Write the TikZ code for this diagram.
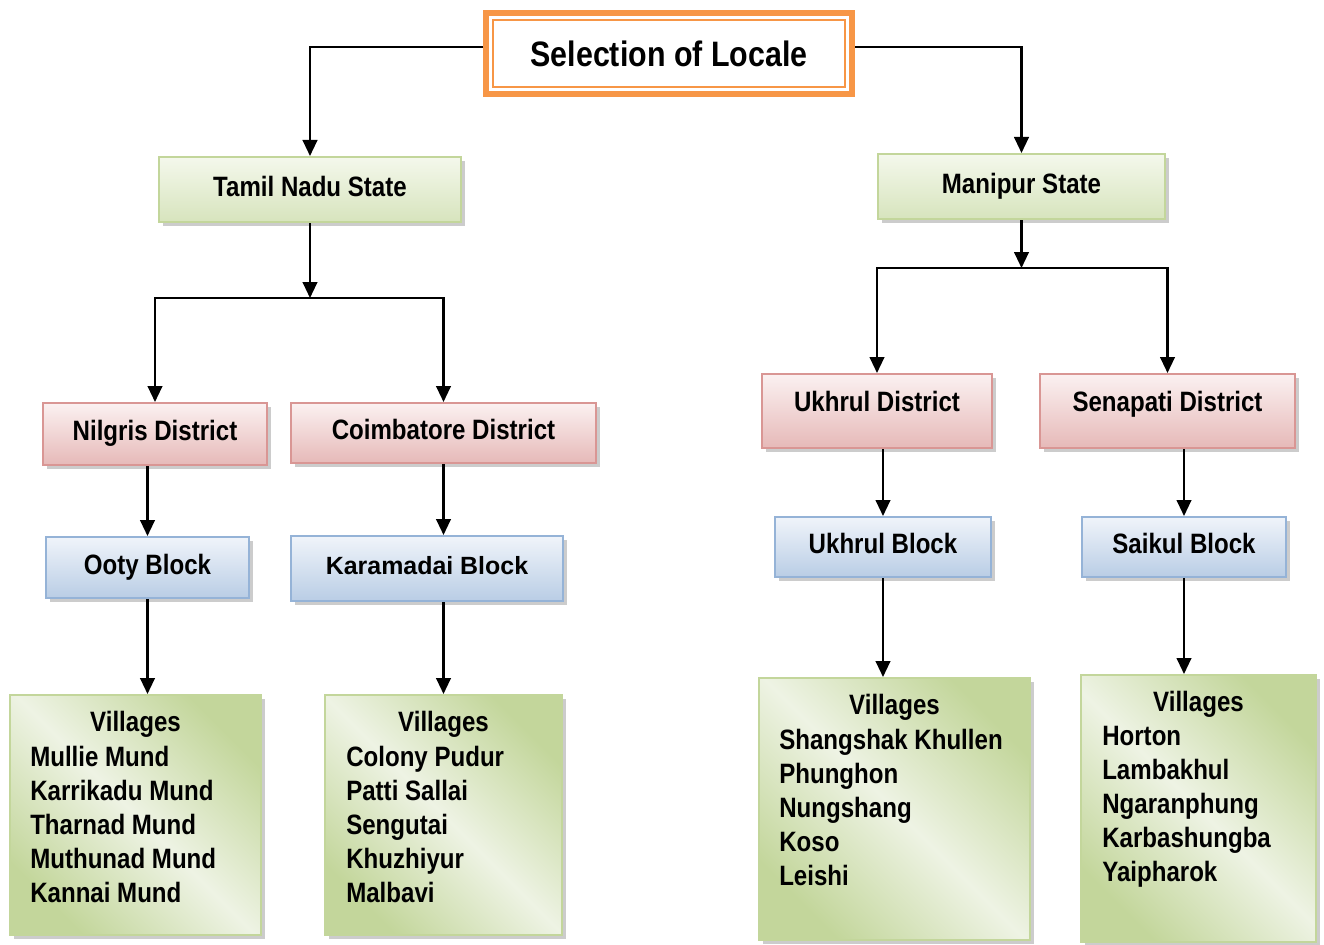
\documentclass[tikz,border=0pt]{standalone}
\usepackage{fontspec}
\setmainfont[FakeStretch=0.86]{Liberation Sans}
\newfontfamily\widesans{Liberation Sans}
\usetikzlibrary{arrows.meta, positioning, calc, shadows}
\usepackage{xcolor}
\definecolor{localeorange}{HTML}{F79646}
\definecolor{stategreen}{HTML}{C3D69B}
\definecolor{stategreenlt}{HTML}{F4F8EC}
\definecolor{stategreendk}{HTML}{D7E4BD}
\definecolor{distred}{HTML}{D99694}
\definecolor{distredlt}{HTML}{FBF1F1}
\definecolor{distreddk}{HTML}{E6B9B8}
\definecolor{blockblue}{HTML}{95B3D7}
\definecolor{blockbluelt}{HTML}{F0F4FA}
\definecolor{blockbluedk}{HTML}{B9CDE5}
\definecolor{villagegreen}{HTML}{C3D69B}
\definecolor{villagelt}{HTML}{EEF3E4}

\begin{document}
\begin{tikzpicture}[x=0.75pt, y=-0.75pt,
  every node/.style={font=\fontsize{21}{25.5}\selectfont\bfseries},
  boxbase/.style={rectangle, line width=1.5pt, inner sep=0pt, text height=15pt, text depth=5pt,
    drop shadow={shadow xshift=3pt, shadow yshift=-3pt, fill=black!40}},
  statebox/.style={boxbase, draw=stategreen, top color=stategreenlt, bottom color=stategreendk},
  distbox/.style={boxbase, draw=distred, top color=distredlt, bottom color=distreddk},
  blockbox/.style={boxbase, draw=blockblue, top color=blockbluelt, bottom color=blockbluedk},
  villagebox/.style={boxbase, draw=villagegreen, left color=villagegreen, right color=villagegreen,
    middle color=villagelt, shading angle=135},
  vhead/.style={inner sep=0pt},
  vlist/.style={anchor=north west, align=left, inner sep=0pt},
  arr/.style={line width=1.6pt, -{Triangle[length=12pt, width=11pt]}},
  bus/.style={line width=1.6pt}
]
\useasboundingbox (0,0) rectangle (1324,945);

% title
\node[draw=localeorange, line width=4.5pt, fill=white, minimum width=274.5pt, minimum height=60.75pt,
      font=\fontsize{26.5}{30}\selectfont\bfseries]
      (title) at (669,53.5) {Selection of Locale};
\draw[localeorange, line width=1.3pt] ($(title.north west)+(10,10)$) rectangle ($(title.south east)+(-10,-10)$);

% states
\node[statebox, minimum width=226.5pt, minimum height=48.75pt] (tn) at (310,189.5) {Tamil Nadu State};
\node[statebox, minimum width=215.25pt, minimum height=48.75pt] (ms) at (1021.5,186.5) {Manipur State};

% districts
\node[distbox, minimum width=168pt, minimum height=46.5pt] (nd) at (155,434) {Nilgris District};
\node[distbox, minimum width=228.75pt, minimum height=45pt] (cd) at (443.5,433) {Coimbatore District};
\node[distbox, minimum width=172.5pt, minimum height=55.5pt, text depth=15pt] (ud) at (877,411) {Ukhrul District};
\node[distbox, minimum width=191.25pt, minimum height=55.5pt, text depth=15pt] (sd) at (1167.5,411) {Senapati District};

% blocks
\node[blockbox, minimum width=152.25pt, minimum height=45.75pt] (ob) at (147.5,567.5) {Ooty Block};
\node[blockbox, minimum width=204pt, minimum height=48.75pt, text height=13.5pt,
      font=\widesans\fontsize{18.7}{22}\selectfont\bfseries] (kb) at (427,568.5) {Karamadai Block};
\node[blockbox, minimum width=162pt, minimum height=45pt] (ub) at (883,547) {Ukhrul Block};
\node[blockbox, minimum width=153pt, minimum height=45pt] (sb) at (1184,547) {Saikul Block};

% villages
\node[villagebox, minimum width=188.25pt, minimum height=180pt] (v1) at (135.5,815) {};
\node[villagebox, minimum width=177.75pt, minimum height=180pt] (v2) at (443.5,815) {};
\node[villagebox, minimum width=203.25pt, minimum height=196.5pt] (v3) at (894.5,809) {};
\node[villagebox, minimum width=176.25pt, minimum height=200.25pt] (v4) at (1198.5,808.5) {};

\node[vhead] (v1h) at ($(v1.north)+(0,30)$) {Villages};
\node[vlist] (v1l) at ($(v1.north west)+(21,52)$)
  {Mullie Mund\\Karrikadu Mund\\Tharnad Mund\\Muthunad Mund\\Kannai Mund};
\node[vhead] (v2h) at ($(v2.north)+(0,30)$) {Villages};
\node[vlist] (v2l) at ($(v2.north west)+(22,52)$)
  {Colony Pudur\\Patti Sallai\\Sengutai\\Khuzhiyur\\Malbavi};
\node[vhead] (v3h) at ($(v3.north)+(0,30)$) {Villages};
\node[vlist] (v3l) at ($(v3.north west)+(21,52)$)
  {Shangshak Khullen\\Phunghon\\Nungshang\\Koso\\Leishi};
\node[vhead] (v4h) at ($(v4.north)+(0,30)$) {Villages};
\node[vlist] (v4l) at ($(v4.north west)+(22,52)$)
  {Horton\\Lambakhul\\Ngaranphung\\Karbashungba\\Yaipharok};

% connectors
\draw[arr] ([yshift=4.9pt]title.west) -| (tn.north);
\draw[arr] ([yshift=4.9pt]title.east) -| (ms.north);

\coordinate (tnbus) at ($(tn.south)+(0,75)$);
\draw[arr] (tn.south) -- (tnbus);
\draw[arr] (tnbus) -| (nd.north);
\draw[arr] (tnbus) -| (cd.north);

\coordinate (msbus) at ($(ms.south)+(0,48)$);
\draw[arr] (ms.south) -- (msbus);
\draw[arr] (msbus) -| (ud.north);
\draw[arr] (msbus) -| (sd.north);

\draw[arr] (nd.south -| ob.north) -- (ob.north);
\draw[arr] (cd.south) -- (cd.south |- kb.north);
\draw[arr] (ud.south -| ub.north) -- (ub.north);
\draw[arr] (sd.south -| sb.north) -- (sb.north);

\draw[arr] (ob.south) -- (ob.south |- v1.north);
\draw[arr] (kb.south -| v2.north) -- (v2.north);
\draw[arr] (ub.south) -- (ub.south |- v3.north);
\draw[arr] (sb.south) -- (sb.south |- v4.north);
\end{tikzpicture}
\end{document}
